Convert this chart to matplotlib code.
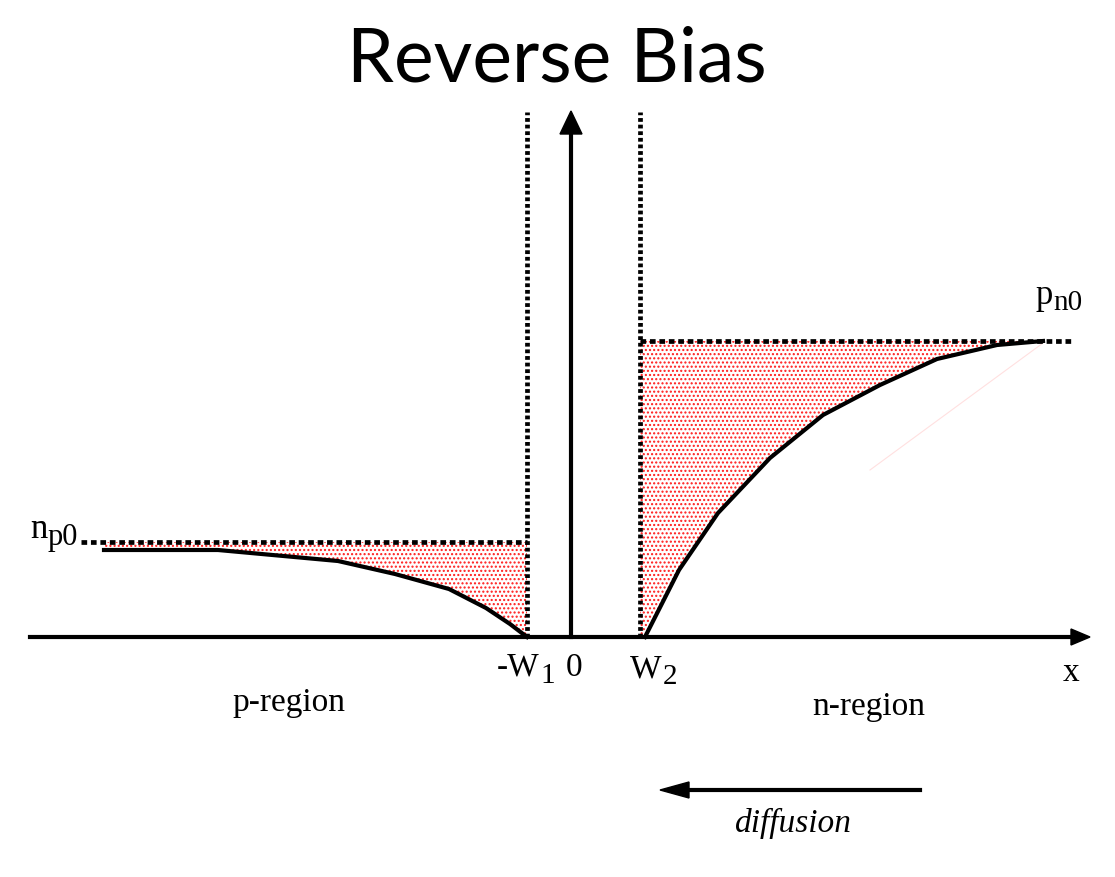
import matplotlib
matplotlib.use("Agg")
import matplotlib.pyplot as plt
import numpy as np

plt.rcParams['hatch.linewidth'] = 1.0

# ---- data (x relative to junction origin, y = carrier concentration, arbitrary units) ----
W1 = 44          # depletion edge on p side at -W1
W2 = 69          # depletion edge on n side at +W2
np0 = 95         # equilibrium minority electron concentration (p side)
pn0 = 296        # equilibrium minority hole concentration (n side)

p_x = [-467, -353, -233, -176, -122, -85, -61, -44]
p_y = [87, 87, 76, 63, 48, 29, 13, 0]

n_x = [69, 74, 108, 147, 199, 252, 309, 366, 426, 472]
n_y = [0, 0, 67, 124, 179, 222, 252, 278, 292, 296]

title = "Reverse Bias"
region_labels = ["p-region", "n-region"]

fig = plt.figure(figsize=(11.15, 8.77), dpi=100)
ax = fig.add_axes([0, 0, 1, 1])
ax.set_xlim(-571, 544)
ax.set_ylim(-240, 637)
ax.axis('off')

serif = 'Liberation Serif'

# fills
px = np.array(p_x); py = np.array(p_y)
ax.fill_between(px, py, np0, where=py <= np0, facecolor='white', edgecolor='#ff1a1a',
                hatch='....', linewidth=0, zorder=1)
nx = np.array(n_x); ny = np.array(n_y)
ax.fill_between(nx, ny, pn0, facecolor='white', edgecolor='#ff1a1a',
                hatch='....', linewidth=0, zorder=1)

# faint pink artifact line
ax.plot([299, 472], [167, 294], color='#ffe0e0', lw=0.8, zorder=1)

# curves
ax.plot(p_x, p_y, color='black', lw=3.0, solid_joinstyle='miter', zorder=3)
ax.plot(n_x[1:], n_y[1:], color='black', lw=3.0, solid_joinstyle='miter', zorder=3)

# dashed equilibrium levels
ax.plot([-490, -W1], [np0, np0], color='black', lw=3.4, dashes=(1.2, 0.8), zorder=4)
ax.plot([W2, 502], [pn0, pn0], color='black', lw=3.4, dashes=(1.2, 0.8), zorder=4)

# dashed depletion edges
for xe in (-W1, W2):
    ax.plot([xe, xe], [0, 525], color='black', lw=3.4, dashes=(0.8, 0.6), zorder=4)

# x axis
ax.plot([-541, 505], [0, 0], color='black', lw=3.0, zorder=5)
ax.add_patch(plt.Polygon([[500, 8], [519, 0], [500, -8]], color='black', zorder=5))
# y axis
ax.plot([0, 0], [0, 505], color='black', lw=3.0, zorder=5)
ax.add_patch(plt.Polygon([[-11, 503], [0, 526], [11, 503]], color='black', zorder=5))

# diffusion arrow
ax.plot([349, 110], [-153, -153], color='black', lw=3.0, zorder=5)
ax.add_patch(plt.Polygon([[118, -145], [89, -153], [118, -161]], color='black', zorder=5))


def sub_label(x, y, main, sub, size, sub_size, drop, ha='left'):
    t = ax.text(x, y, main, ha=ha, va='baseline', fontsize=size, family=serif)
    ax.annotate(sub, xy=(1, 0), xycoords=t, xytext=(0.5, -drop), textcoords='offset points',
                ha='left', va='bottom', fontsize=sub_size, family=serif)
    return t


# text
ax.text(-14, 577, title, ha='center', va='center', fontsize=54, family='Lato')
sub_label(-541, 99, "n", "p0", 25, 22, 4)
sub_label(464, 333, "p", "n0", 25, 21, 3)
sub_label(-74, -39, "-W", "1", 24, 21, 4)
ax.text(3, -39, "0", ha='center', va='baseline', fontsize=24, family=serif)
sub_label(59, -40, "W", "2", 24, 21, 4)
ax.text(500, -44, "x", ha='center', va='baseline', fontsize=24, family=serif)
ax.text(-282, -74, region_labels[0], ha='center', va='baseline', fontsize=24, family=serif)
ax.text(298, -78, region_labels[1], ha='center', va='baseline', fontsize=24, family=serif)
ax.text(222, -195, "diffusion", ha='center', va='baseline', fontsize=24, family=serif,
        style='italic')

fig.savefig("out.png", dpi=100)
